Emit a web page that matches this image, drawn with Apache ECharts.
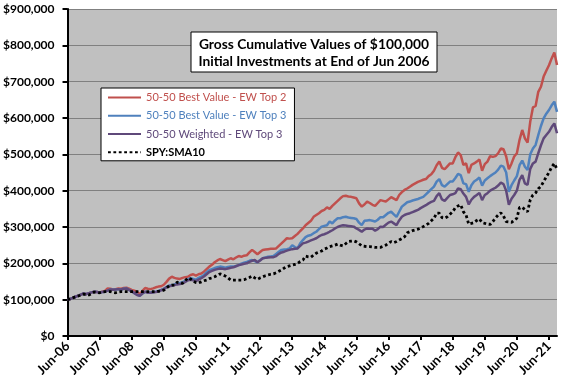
<!DOCTYPE html>
<html>
<head>
<meta charset="utf-8">
<script src="https://cdn.jsdelivr.net/npm/echarts@6/dist/echarts.min.js"></script>
<style>
html,body{margin:0;padding:0;background:#fff;}
#c{width:576px;height:385px;}
</style>
</head>
<body>
<div id="c"></div>
<script>
// Monthly values in $ thousands, Jun-06 .. Sep-21
const redBestTop2 = [
100,102,105,108,111,114,117,115,118,120,122,121,
120,122,124,131,130,128,129,131,130,132,133,130,
127,125,121,115,124,132,130,129,131,134,136,137,
141,149,158,163,160,158,157,160,162,163,168,170,
166,170,172,177,184,191,196,203,208,212,209,206,
210,214,211,216,220,218,221,222,230,237,231,225,
231,237,238,239,240,240,241,248,255,262,269,268,
269,275,281,289,296,305,311,317,328,333,338,344,
347,354,350,358,365,372,379,385,386,384,383,381,
379,365,356,362,370,366,361,358,366,374,372,370,
376,382,378,374,388,396,402,406,411,416,420,424,
427,430,432,440,445,455,470,480,463,459,467,475,
475,492,505,498,471,475,448,471,475,480,486,455,
473,480,495,493,495,503,516,514,494,459,475,494,
503,540,567,544,532,590,629,633,672,686,714,730,
745,764,780,746];

const blueBestTop3 = [
100,102,105,108,111,114,117,115,118,120,122,121,
120,121,122,125,128,127,128,129,128,130,131,127,
123,118,114,111,117,122,120,120,121,122,124,127,
130,135,139,140,142,145,146,148,152,156,159,157,
155,160,163,168,175,181,184,187,189,191,190,188,
190,191,191,193,195,199,202,204,207,209,206,203,
209,214,216,218,219,220,226,232,237,238,239,241,
250,245,241,255,264,272,276,278,283,287,294,301,
303,305,315,310,318,324,324,327,328,326,325,324,
322,312,305,317,318,319,317,315,320,327,327,333,
339,342,335,328,342,356,362,368,370,373,375,377,
380,383,390,397,404,411,425,432,415,411,418,425,
425,435,446,443,420,418,397,415,425,430,436,414,
428,434,440,445,450,458,469,466,450,397,415,428,
440,470,483,466,457,500,516,526,553,578,599,612,
622,635,645,617];

const purpleWeightedTop3 = [
100,102,105,108,111,114,117,115,118,120,122,121,
120,121,122,125,128,127,128,129,128,130,131,127,
123,118,113,111,117,122,119,119,120,121,123,126,
129,134,137,138,140,142,143,145,149,153,155,153,
151,155,159,164,170,176,179,182,184,186,185,184,
186,188,189,192,195,197,199,200,204,207,209,203,
208,214,215,216,217,217,220,226,230,232,235,237,
239,240,241,248,255,257,260,263,266,269,274,278,
280,283,287,291,296,300,303,305,304,303,302,301,
296,292,287,293,296,295,295,290,294,301,300,306,
312,315,310,305,318,328,333,336,338,341,344,347,
352,356,360,365,369,372,385,393,376,372,380,388,
390,393,406,404,392,383,362,375,383,388,394,374,
388,393,400,404,408,414,422,418,400,361,378,388,
400,430,443,420,416,460,475,480,503,525,544,553,
562,575,585,558];

const spySma10 = [
100,102,105,108,110,113,115,114,113,117,121,120,
119,121,122,122,122,120,119,121,122,122,122,122,
122,122,122,122,122,122,122,122,122,122,123,124,
126,132,138,140,140,148,147,145,152,160,157,151,
147,146,149,152,154,158,160,163,167,171,168,165,
160,154,154,154,154,154,155,158,161,165,160,156,
160,163,166,168,170,171,174,178,182,187,191,193,
195,197,200,205,209,220,218,217,223,228,231,234,
239,242,246,248,250,253,250,248,254,260,261,262,
259,254,248,247,246,246,245,244,244,244,247,250,
255,260,257,260,264,268,273,284,287,290,292,294,
297,301,305,310,317,324,338,338,326,324,328,335,
342,353,358,361,342,333,308,310,312,318,322,312,
310,308,307,315,325,333,339,330,315,314,313,318,
324,354,354,348,342,375,388,394,405,412,425,438,
450,465,475,459];

const seriesNames = ['50-50 Best Value - EW Top 2','50-50 Best Value - EW Top 3','50-50 Weighted - EW Top 3','SPY:SMA10'];
const monthNames = ['Jan','Feb','Mar','Apr','May','Jun','Jul','Aug','Sep','Oct','Nov','Dec'];
const yTicks = [0,100000,200000,300000,400000,500000,600000,700000,800000,900000];
const titleLines = ['Gross Cumulative Values of $100,000','Initial Investments at End of Jun 2006'];

// categories Jun-06 .. Sep-21
const categories = [];
for (let i = 0; i < redBestTop2.length; i++) {
  const mi = (5 + i) % 12;
  const yr = 2006 + Math.floor((5 + i) / 12);
  categories.push(monthNames[mi] + '-' + String(yr).slice(2));
}

const FONT = 'Lato, "DejaVu Sans", sans-serif';
const colors = ['#C0504D','#4F81BD','#5F497A','#000000'];
const datasets = [redBestTop2, blueBestTop3, purpleWeightedTop3, spySma10];

const chart = echarts.init(document.getElementById('c'), null, {renderer:'canvas'});
chart.setOption({
  animation:false,
  textStyle:{fontFamily:FONT},
  grid:{left:66,right:19,top:9,bottom:49,show:true,backgroundColor:'#C0C0C0',borderWidth:0,containLabel:false},
  xAxis:{
    type:'category',data:categories,boundaryGap:false,
    axisLine:{lineStyle:{color:'#000',width:2}},
    axisTick:{interval:11,length:4,lineStyle:{color:'#000',width:2}},
    axisLabel:{interval:11,rotate:45,margin:8,color:'#000',fontWeight:'bold',fontSize:13,fontFamily:FONT},
    splitLine:{show:false}
  },
  yAxis:{
    type:'value',min:yTicks[0],max:yTicks[yTicks.length-1],interval:100000,
    axisLine:{show:true,lineStyle:{color:'#000',width:2}},
    axisTick:{show:true,length:5,lineStyle:{color:'#000',width:2}},
    axisLabel:{margin:13,color:'#000',fontWeight:'bold',fontSize:12,fontFamily:FONT,
      formatter:v=>'$'+v.toLocaleString('en-US')},
    splitLine:{lineStyle:{color:'#808080',width:1}}
  },
  legend:{
    orient:'vertical',left:101,top:88,
    backgroundColor:'#fff',borderColor:'#000',borderWidth:1,
    padding:[4,8,3,6],itemGap:7,itemWidth:33,itemHeight:14,
    itemStyle:{opacity:0},
    textStyle:{fontFamily:FONT,fontSize:11},
    data:seriesNames.map((n,i)=>({name:n,textStyle:{color:colors[i],fontWeight: i===3?'bold':'normal'}}))
  },
  graphic:[
    {type:'rect',shape:{x:191,y:32,width:246,height:40},style:{fill:'#fff',stroke:'#000',lineWidth:1},z:100},
    {type:'text',x:314,y:44.5,style:{text:titleLines[0],align:'center',verticalAlign:'middle',font:'bold 13.8px '+FONT,fill:'#000'},z:101},
    {type:'text',x:314,y:62,style:{text:titleLines[1],align:'center',verticalAlign:'middle',font:'bold 13.8px '+FONT,fill:'#000'},z:101}
  ],
  series:datasets.map((d,i)=>({
    name:seriesNames[i],type:'line',symbol:'none',showSymbol:false,
    data:d.map(v=>v*1000),
    lineStyle: i===3 ? {color:'#000',width:2.8,type:[2.8,2.6],cap:'butt'} : {color:colors[i],width:2.5},
    itemStyle:{color:colors[i]},
    z: 2+i
  }))
});
</script>
</body>
</html>
